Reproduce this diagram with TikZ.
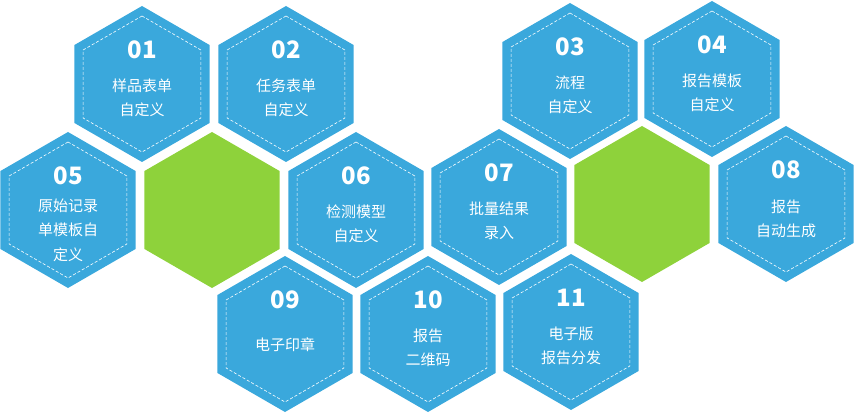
\documentclass[tikz,border=0pt]{standalone}
\usepackage{fontspec}
\setmainfont{Noto Sans CJK SC}
\usetikzlibrary{shapes.geometric}
\definecolor{hblue}{HTML}{3AA8DC}
\definecolor{hgreen}{HTML}{8ED23B}
\tikzset{
  hex/.style={shape=regular polygon,regular polygon sides=6,shape border rotate=30,inner sep=0pt,outer sep=0pt,minimum size=156pt,fill=hblue,draw=none},
  ghex/.style={hex,fill=hgreen},
  inhex/.style={shape=regular polygon,regular polygon sides=6,shape border rotate=30,inner sep=0pt,minimum size=136pt,draw=white,dashed,line width=0.6pt,dash pattern=on 3pt off 2pt},
  num/.style={text=white,font=\bfseries\fontsize{24}{24}\selectfont},
  lbl/.style={text=white,align=center,font=\fontsize{15}{24.5}\selectfont},
}
\newcommand\hx[6]{%
  \node[hex] (h#1) at (#2,#3) {};
  \node[inhex] (d#1) at (#2,#3) {};
  \node[num] (n#1) at (#2,#3-34) {#1};
  \node[lbl] (t#1) at (#2,#3+#4) {#5};
}
\begin{document}
\begin{tikzpicture}[x=1pt,y=-1pt]
\useasboundingbox (0,0) rectangle (854,414);
\node[ghex] (g1) at (212,210) {};
\node[ghex] (g2) at (642,204) {};
\hx{01}{142}{84}{14}{样品表单\\自定义}{}
\hx{02}{286}{84}{14}{任务表单\\自定义}{}
\hx{03}{570}{81}{14}{流程\\自定义}{}
\hx{04}{712}{79}{14}{报告模板\\自定义}{}
\hx{05}{68}{210}{20}{原始记录\\单模板自\\定义}{}
\hx{06}{356}{210}{14}{检测模型\\自定义}{}
\hx{07}{499}{207}{14}{批量结果\\录入}{}
\hx{08}{786}{204}{15}{报告\\自动生成}{}
\hx{09}{285}{334}{11}{电子印章}{}
\hx{10}{428}{334}{14}{报告\\二维码}{}
\hx{11}{571}{332}{14}{电子版\\报告分发}{}
\end{tikzpicture}
\end{document}
